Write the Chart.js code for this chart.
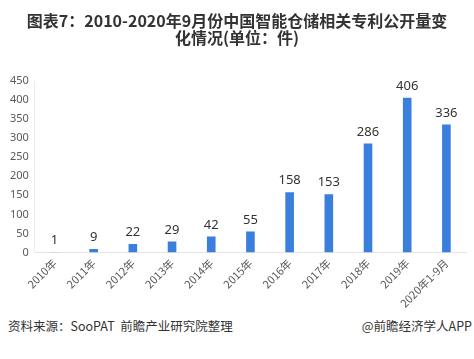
<!DOCTYPE html>
<html lang="zh">
<head>
<meta charset="UTF-8">
<title>智能仓储相关专利公开量</title>
<script src="https://cdn.jsdelivr.net/npm/chart.js"></script>
<style>
    body {
        margin: 0;
        background: #fff;
        font-family: "Noto Sans CJK SC", "Noto Sans", sans-serif;
    }
    #wrap {
        position: relative;
        width: 474px;
        height: 359px;
        overflow: hidden;
    }
    #title {
        position: absolute;
        left: 0;
        top: 12px;
        width: 474px;
        text-align: center;
        font-weight: bold;
        font-size: 16px;
        line-height: 17px;
        color: #333;
    }
    #chart {
        position: absolute;
        left: 0;
        top: 0;
    }
    .foot {
        position: absolute;
        top: 316px;
        font-size: 12.5px;
        color: #333;
    }
</style>
</head>
<body>
<div id="wrap">
    <canvas id="chart" width="474" height="314"></canvas>
    <div id="title">图表7：2010-2020年9月份中国智能仓储相关专利公开量变<br>化情况(单位：件)</div>
    <div class="foot" style="left:8px">资料来源：SooPAT&nbsp; 前瞻产业研究院整理</div>
    <div class="foot" style="right:2px">@前瞻经济学人APP</div>
</div>
<script>
    // 数据
    const anos = ["2010年", "2011年", "2012年", "2013年", "2014年", "2015年", "2016年", "2017年", "2018年", "2019年", "2020年1-9月"];
    const patentes = [1, 9, 22, 29, 42, 55, 158, 153, 286, 406, 336];

    // 柱顶数值
    const rotulos = {
        id: 'rotulos',
        afterDatasetsDraw(chart) {
            const ctx = chart.ctx;
            const meta = chart.getDatasetMeta(0);
            ctx.save();
            ctx.font = '13px "Noto Sans", sans-serif';
            ctx.fillStyle = '#333';
            ctx.textAlign = 'center';
            ctx.textBaseline = 'bottom';
            meta.data.forEach((bar, i) => {
                ctx.fillText(patentes[i], bar.x, bar.y - 5);
            });
            ctx.restore();
        }
    };

    new Chart(document.getElementById('chart'), {
        type: 'bar',
        data: {
            labels: anos,
            datasets: [{
                data: patentes,
                backgroundColor: '#3a7fdc',
                barPercentage: 0.22,
                categoryPercentage: 1
            }]
        },
        options: {
            responsive: false,
            animation: false,
            layout: { padding: { top: 81, left: 4, right: 8 } },
            plugins: {
                legend: { display: false },
                tooltip: { enabled: false }
            },
            scales: {
                x: {
                    grid: { display: false, drawTicks: false },
                    border: { color: '#e6e6e6' },
                    ticks: {
                        color: '#595959',
                        font: { size: 11, family: '"Noto Sans CJK SC", sans-serif' },
                        minRotation: 45,
                        maxRotation: 45,
                        padding: 4
                    }
                },
                y: {
                    min: 0,
                    max: 450,
                    grid: { display: false, drawTicks: false },
                    border: { color: '#eeeeee' },
                    ticks: {
                        stepSize: 50,
                        color: '#595959',
                        font: { size: 11, family: '"Noto Sans", sans-serif' },
                        padding: 6
                    }
                }
            }
        },
        plugins: [rotulos]
    });
</script>
</body>
</html>
